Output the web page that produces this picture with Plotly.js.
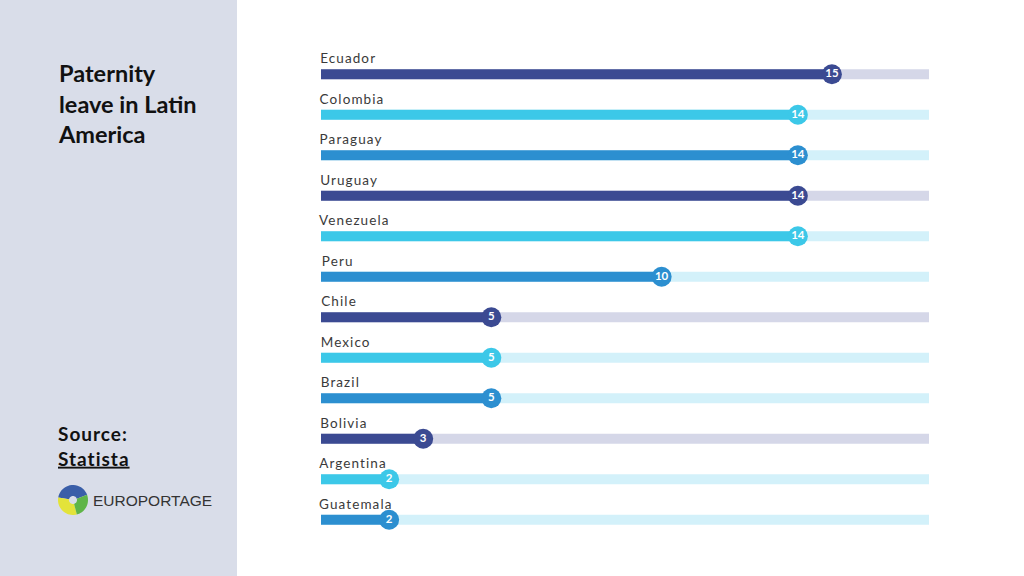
<!DOCTYPE html>
<html><head><meta charset="utf-8">
<script src="https://cdn.plot.ly/plotly-3.0.1.min.js"></script>
<style>
html,body{margin:0;padding:0;background:#fff;}
#chart{width:1024px;height:576px;}
.cat-label text{letter-spacing:1.1px;}
.src-label text{letter-spacing:1px;}
</style>
</head><body><div id="chart"></div>
<script>
// ---- data ----
const countries = ["Ecuador","Colombia","Paraguay","Uruguay","Venezuela","Peru","Chile","Mexico","Brazil","Bolivia","Argentina","Guatemala"];
const days = [15,14,14,14,14,10,5,5,5,3,2,2];
const barColors = ["#3b4a92","#3cc8e8","#2c8fd0","#3b4a92","#3cc8e8","#2c8fd0","#3b4a92","#3cc8e8","#2c8fd0","#3b4a92","#3cc8e8","#2c8fd0"];
const trackColors = ["#d5d7e8","#d3f1fa","#d3f1fa","#d5d7e8","#d3f1fa","#d3f1fa","#d5d7e8","#d3f1fa","#d3f1fa","#d5d7e8","#d3f1fa","#d3f1fa"];
const trackMax = 17.85;

// ---- layout geometry ----
const W = 1024, H = 576;
const L = 321, R = 929, T = 54, B = 540;
const pw = R - L, ph = B - T;
const px = x => (x - L) / pw;
const py = y => 1 - (y - T) / ph;

const trackTrace = {
  type: "bar", orientation: "h", y: countries, x: countries.map(() => trackMax),
  marker: {color: trackColors}, width: 0.25, hoverinfo: "skip", showlegend: false
};
const barTrace = {
  type: "bar", orientation: "h", y: countries, x: days,
  marker: {color: barColors}, width: 0.25, hoverinfo: "skip", showlegend: false
};
const dotTrace = {
  type: "scatter", mode: "markers+text", y: countries, x: days,
  marker: {color: barColors, size: 20, line: {width: 0}},
  text: days.map(String), textposition: "middle center",
  textfont: {color: "#ffffff", size: 11.5, family: "Lato, 'Open Sans', sans-serif", weight: 700},
  hoverinfo: "skip", showlegend: false, cliponaxis: false
};

const annotations = countries.map(c => ({
  xref: "paper", yref: "y", x: 0, y: c, xanchor: "left", yanchor: "middle",
  xshift: 1, yshift: 16, text: c, showarrow: false,
  font: {family: "Lato, 'Open Sans', sans-serif", size: 13.5, color: "#3a3a3a"},
  captureevents: false
}));

annotations.push(
  {xref:"paper",yref:"paper",x:px(56),y:py(103),xanchor:"left",yanchor:"middle",showarrow:false,align:"left",
   text:"Paternity<br>leave in Latin<br>America",
   font:{family:"Lato, 'Open Sans', sans-serif",size:23.5,color:"#111111",weight:700}},
  {xref:"paper",yref:"paper",x:px(56),y:py(446),xanchor:"left",yanchor:"middle",showarrow:false,align:"left",
   text:"Source:<br><u>Statista</u>",
   font:{family:"Lato, 'Open Sans', sans-serif",size:19,color:"#111111",weight:700}},
  {xref:"paper",yref:"paper",x:px(91),y:py(500),xanchor:"left",yanchor:"middle",showarrow:false,
   text:"EUROPORTAGE",
   font:{family:"'Liberation Sans', sans-serif",size:15.5,color:"#333333"}}
);

// logo pieces
const cx = 73, cy = 500, r = 15;
function arcPath(a0, a1, rin) {
  let pts = [];
  const n = 20;
  for (let i = 0; i <= n; i++) {
    const a = (a0 + (a1 - a0) * i / n) * Math.PI / 180;
    pts.push([cx + r * Math.cos(a), cy - r * Math.sin(a)]);
  }
  for (let i = n; i >= 0; i--) {
    const a = (a0 + (a1 - a0) * i / n) * Math.PI / 180;
    pts.push([cx + rin * Math.cos(a), cy - rin * Math.sin(a)]);
  }
  return "M" + pts.map(p => px(p[0]).toFixed(5) + "," + py(p[1]).toFixed(5)).join("L") + "Z";
}
const shapes = [
  {type:"rect",xref:"paper",yref:"paper",x0:px(0),x1:px(237),y0:py(0),y1:py(576),fillcolor:"#d9dde9",line:{width:0},layer:"below"},
  {type:"path",xref:"paper",yref:"paper",path:arcPath(20,170,4),fillcolor:"#3a5ea8",line:{width:0}},
  {type:"path",xref:"paper",yref:"paper",path:arcPath(170,285,4),fillcolor:"#e3e33a",line:{width:0}},
  {type:"path",xref:"paper",yref:"paper",path:arcPath(285,380,4),fillcolor:"#5fb548",line:{width:0}}
];

const layout = {
  width: W, height: H,
  margin: {l: L, r: W - R, t: T, b: H - B, pad: 0},
  paper_bgcolor: "#ffffff", plot_bgcolor: "rgba(0,0,0,0)",
  barmode: "overlay", showlegend: false,
  xaxis: {range: [0, trackMax], visible: false, fixedrange: true},
  yaxis: {type: "category", range: [countries.length - 0.5, -0.5], autorange: false, visible: false, fixedrange: true},
  annotations: annotations, shapes: shapes
};

Plotly.newPlot("chart", [trackTrace, barTrace, dotTrace], layout, {displayModeBar: false, staticPlot: true}).then(() => {
  const ann = document.querySelectorAll(".annotation");
  ann.forEach((g, i) => {
    if (i < countries.length) g.classList.add("cat-label");
    if (i === countries.length + 1) g.classList.add("src-label");
  });
});
</script></body></html>
